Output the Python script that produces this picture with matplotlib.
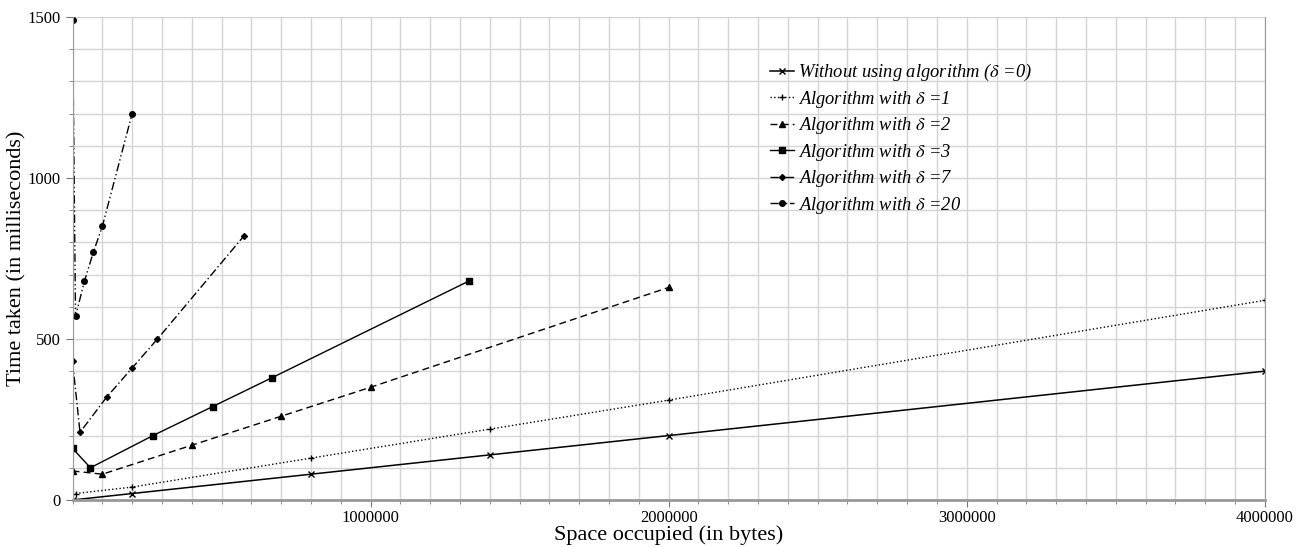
import matplotlib.pyplot as plt
from matplotlib.ticker import MultipleLocator, FixedLocator, FuncFormatter
plt.rcParams['font.family'] = 'Liberation Serif'
plt.rcParams['mathtext.fontset'] = 'stix'

# values
x_d0 = [0, 200000, 800000, 1400000, 2000000, 4000000]
y_d0 = [0, 20, 80, 140, 200, 400]

x_d1 = [10000, 200000, 800000, 1400000, 2000000, 4000000]
y_d1 = [20, 40, 130, 220, 310, 620]

x_d2 = [0, 100000, 400000, 700000, 1000000, 2000000]
y_d2 = [90, 80, 170, 260, 350, 660]

x_d3 = [0, 60000, 270000, 470000, 670000, 1330000]
y_d3 = [160, 100, 200, 290, 380, 680]

x_d7 = [0, 25000, 115000, 200000, 285000, 575000]
y_d7 = [430, 210, 320, 410, 500, 820]

x_d20 = [0, 10000, 40000, 70000, 100000, 200000]
y_d20 = [1490, 570, 680, 770, 850, 1200]

x_ticks = [1000000, 2000000, 3000000, 4000000]

labels = ['Without using algorithm ($\\delta$ =0)',
          'Algorithm with $\\delta$ =1',
          'Algorithm with $\\delta$ =2',
          'Algorithm with $\\delta$ =3',
          'Algorithm with $\\delta$ =7',
          'Algorithm with $\\delta$ =20']

fig = plt.figure(figsize=(13.12, 5.47), dpi=100)
ax = fig.add_axes([0.0553, 0.086, 0.9087, 0.883])

ax.plot(x_d0, y_d0, color='black', lw=1.1, ls='-', marker='x', ms=4, mew=1, label=labels[0])
ax.plot(x_d1, y_d1, color='black', lw=1.0, ls=':', marker='+', ms=5, mew=1, label=labels[1])
ax.plot(x_d2, y_d2, color='black', lw=1.0, ls=(0, (5, 3)), marker='^', ms=4, label=labels[2])
ax.plot(x_d3, y_d3, color='black', lw=1.0, ls='-', marker='s', ms=4.5, label=labels[3])
ax.plot(x_d7, y_d7, color='black', lw=1.0, ls=(0, (6, 2, 1, 2)), marker='D', ms=3, label=labels[4])
ax.plot(x_d20, y_d20, color='black', lw=1.0, ls=(0, (6, 2, 1, 2, 1, 2)), marker='o', ms=4, label=labels[5])

ax.set_xlim(0, 4000000)
ax.set_ylim(0, 1500)
ax.xaxis.set_major_locator(FixedLocator(x_ticks))
ax.xaxis.set_major_formatter(FuncFormatter(lambda v, p: '%d' % v))
ax.xaxis.set_minor_locator(MultipleLocator(100000))
ax.yaxis.set_major_locator(MultipleLocator(500))
ax.yaxis.set_minor_locator(MultipleLocator(100))
ax.grid(True, which='both', color='#d4d4d4', lw=1.0)
ax.set_axisbelow(True)

for s in ['left', 'bottom', 'right']:
    ax.spines[s].set_color('#999999')
ax.spines['bottom'].set_linewidth(2)
ax.spines['top'].set_visible(False)
ax.tick_params(which='both', direction='out', color='#777777', labelsize=12)
ax.tick_params(which='major', length=5)
ax.tick_params(which='minor', length=3)
ax.tick_params(axis='x', pad=2.5)

ax.set_xlabel('Space occupied (in bytes)', fontsize=16, labelpad=-1)
ax.set_ylabel('Time taken (in milliseconds)', fontsize=16, labelpad=0.5)

leg = ax.legend(loc='upper left', bbox_to_anchor=(0.5785, 0.922), frameon=False,
                prop={'style': 'italic', 'size': 13.3}, handlelength=1.3,
                handletextpad=0.25, labelspacing=0.3, borderaxespad=0)

fig.savefig('out.png', dpi=100)
